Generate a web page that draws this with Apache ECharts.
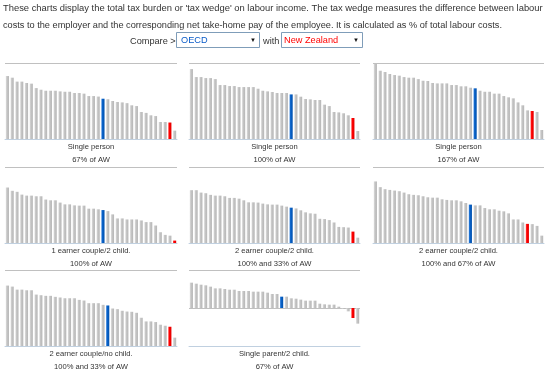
<!DOCTYPE html>
<html><head><meta charset="utf-8">
<script src="https://cdn.jsdelivr.net/npm/echarts@6/dist/echarts.min.js"></script>
<style>html,body{margin:0;padding:0;background:#fff}#c{width:550px;height:389px}</style>
</head><body><div id="c"></div>
<script>
// Country rank (36 bars per panel, sorted by tax wedge)
const categories = ['1','2','3','4','5','6','7','8','9','10','11','12','13','14','15','16','17','18',
  '19','20','21','22','23','24','25','26','27','28','29','30','31','32','33','34','35','36'];

const panelTitles = ['Single person','Single person','Single person','1 earner couple/2 child.',
  '2 earner couple/2 child.','2 earner couple/2 child.','2 earner couple/no child.','Single parent/2 child.'];
const panelSubtitles = ['67% of AW','100% of AW','167% of AW','100% of AW',
  '100% and 33% of AW','100% and 67% of AW','100% and 33% of AW','67% of AW'];

// tax wedge, % of total labour costs
const single67 = [49.7,48.4,45.3,45.3,44.2,43.7,40.2,38.9,38.1,38.1,38.1,37.6,37.3,37.3,36.3,36.3,35.8,33.9,
  33.9,33.5,31.8,31.4,30.0,29.2,28.9,28.3,26.6,26.0,21.3,20.6,18.7,18.1,13.4,13.4,13.0,6.6];
const single100 = [55.2,48.9,48.9,48.1,48.1,47.3,42.6,42.6,41.8,41.8,41.0,41.0,41.0,41.0,39.7,38.1,37.6,37.1,
  36.3,36.3,36.3,35.2,35.2,33.4,31.6,31.3,30.8,30.8,27.1,26.0,21.3,21.0,20.3,18.7,16.6,6.3];
const single167 = [59.2,53.9,52.9,51.3,50.5,50.0,48.9,48.4,48.4,47.3,46.0,45.8,44.2,43.9,43.9,43.9,42.6,42.6,
  41.6,41.6,40.5,40.0,38.1,37.3,37.3,35.8,35.8,33.9,32.9,32.1,28.9,26.6,22.6,22.1,21.3,7.1];
const oneEarner2Child = [43.8,41.2,40.4,38.2,37.4,37.4,36.9,36.9,34.3,33.7,33.7,31.9,30.5,30.5,29.7,29.5,29.5,27.1,
  27.1,26.6,26.0,25.2,22.6,19.4,19.4,18.6,18.6,18.6,17.8,16.5,16.5,13.8,8.5,6.4,5.8,1.9];
const twoEarner33Child = [41.7,41.7,39.8,39.3,38.0,37.4,37.4,36.9,35.6,35.6,35.0,33.7,32.1,32.1,31.9,31.1,30.5,30.3,
  30.3,29.5,28.7,27.9,27.3,25.8,24.2,23.4,23.1,19.1,18.9,18.1,16.2,12.7,12.5,12.2,9.0,4.2];
const twoEarner67Child = [48.6,44.1,42.5,41.9,41.4,40.9,39.8,38.5,38.0,37.7,36.9,36.1,35.8,35.8,34.5,34.0,33.7,33.7,
  32.9,31.6,30.3,29.7,29.7,27.6,26.6,26.6,25.5,25.0,23.4,18.6,18.6,16.2,15.1,14.9,13.5,5.8];
const twoEarnerNoChild = [47.7,46.9,44.5,44.5,44.0,44.0,40.6,40.1,39.6,39.6,38.8,38.3,37.7,37.7,37.7,36.4,35.9,33.8,
  33.8,33.8,32.5,32.0,29.6,29.1,27.8,27.2,27.0,26.2,22.3,19.4,19.4,18.9,16.8,16.0,15.2,6.6];
const singleParent67 = [40.0,38.4,36.8,35.8,33.7,31.0,31.0,30.0,28.9,28.9,26.8,26.8,26.8,25.8,25.8,25.8,24.2,22.1,
  22.1,17.9,17.9,15.3,14.7,13.2,11.6,11.6,11.6,6.8,5.8,5.3,5.3,2.1,-1.1,-5.3,-15.8,-24.7];

// position (0-based) of OECD average and New Zealand in each sorted panel
const oecdIndex = [20,21,21,20,21,20,21,19];
const nzIndex   = [34,34,33,35,34,32,34,34];

const axisMin = [0,0,0,0,0,0,0,-60];
const axisMax = [60,60,60,60,60,60,60,60];

const panelSeries = [single67,single100,single167,oneEarner2Child,twoEarner33Child,twoEarner67Child,twoEarnerNoChild,singleParent67];

// ---------- layout ----------
const colLeft = [5,189,373], colWidth = [172,171,171];
const rowTop = [63,167,270], plotH = 76;
const FONT = '"Liberation Sans", Arial, sans-serif';
const grad = (a,b,c) => new echarts.graphic.LinearGradient(0,0,1,0,[{offset:0,color:a},{offset:0.35,color:b},{offset:1,color:c}]);
const grayFill = grad('#e2e2e2','#c6c6c6','#b6b6b6');
const blueFill = grad('#3a86e0','#0a62c8','#0050ad');
const redFill  = grad('#ff4a4a','#ff0000','#e00000');

const grid=[], xAxis=[], yAxis=[], series=[], graphic=[];
panelSeries.forEach((vals,i)=>{
  const r = Math.floor(i/3), c = i%3;
  grid.push({left:colLeft[c], top:rowTop[r], width:colWidth[c], height:plotH, containLabel:false});
  xAxis.push({type:'category', gridIndex:i, data:categories, boundaryGap:true,
    axisLine:{show:true, onZero:false, lineStyle:{color:'#c0d0e0', width:1}},
    axisTick:{show:false}, axisLabel:{show:false}, splitLine:{show:false}, z:3});
  yAxis.push({type:'value', gridIndex:i, min:axisMin[i], max:axisMax[i], interval:60,
    axisLine:{show:false}, axisTick:{show:false}, axisLabel:{show:false},
    splitLine:{show:true, lineStyle:{color:'#c0c0c0', width:1}}});
  series.push({type:'bar', xAxisIndex:i, yAxisIndex:i, barWidth:'66%', silent:true,
    data: vals.map((v,k)=>({value:v, itemStyle:{color: k===oecdIndex[i]?blueFill:(k===nzIndex[i]?redFill:grayFill)}}))});
  const cx = colLeft[c] + colWidth[c]/2;
  const base = rowTop[r] + plotH;
  graphic.push({type:'text', x:cx, y:base+8, style:{text:panelTitles[i], font:'7.6px '+FONT, fill:'#333', align:'center', verticalAlign:'middle'}});
  graphic.push({type:'text', x:cx, y:base+20.5, style:{text:panelSubtitles[i], font:'7.6px '+FONT, fill:'#333', align:'center', verticalAlign:'middle'}});
});

// intro text and selectors
graphic.push({type:'text', x:3, y:8, style:{text:"These charts display the total tax burden or 'tax wedge' on labour income. The tax wedge measures the difference between labour", font:'9.4px '+FONT, fill:'#333', verticalAlign:'middle'}});
graphic.push({type:'text', x:3, y:25, style:{text:"costs to the employer and the corresponding net take-home pay of the employee. It is calculated as % of total labour costs.", font:'9.2px '+FONT, fill:'#333', verticalAlign:'middle'}});
graphic.push({type:'text', x:130, y:41, style:{text:'Compare >', font:'9.2px '+FONT, fill:'#333', verticalAlign:'middle'}});
graphic.push({type:'rect', shape:{x:176.5, y:32.5, width:83, height:15}, style:{fill:'#fff', stroke:'#7f9db9', lineWidth:1}});
graphic.push({type:'text', x:181, y:40.5, style:{text:'OECD', font:'9.2px '+FONT, fill:'#0a5cc8', verticalAlign:'middle'}});
graphic.push({type:'text', x:253, y:40.5, style:{text:'▼', font:'6px '+FONT, fill:'#111', align:'center', verticalAlign:'middle'}});
graphic.push({type:'text', x:263, y:41, style:{text:'with', font:'9.2px '+FONT, fill:'#333', verticalAlign:'middle'}});
graphic.push({type:'rect', shape:{x:281.5, y:32.5, width:81, height:15}, style:{fill:'#fff', stroke:'#7f9db9', lineWidth:1}});
graphic.push({type:'text', x:284, y:40.5, style:{text:'New Zealand', font:'9.2px '+FONT, fill:'#ff0000', verticalAlign:'middle'}});
graphic.push({type:'text', x:356, y:40.5, style:{text:'▼', font:'6px '+FONT, fill:'#111', align:'center', verticalAlign:'middle'}});

const chart = echarts.init(document.getElementById('c'), null, {renderer:'canvas'});
chart.setOption({animation:false, backgroundColor:'#fff', grid, xAxis, yAxis, series, graphic});
</script>
</body></html>
